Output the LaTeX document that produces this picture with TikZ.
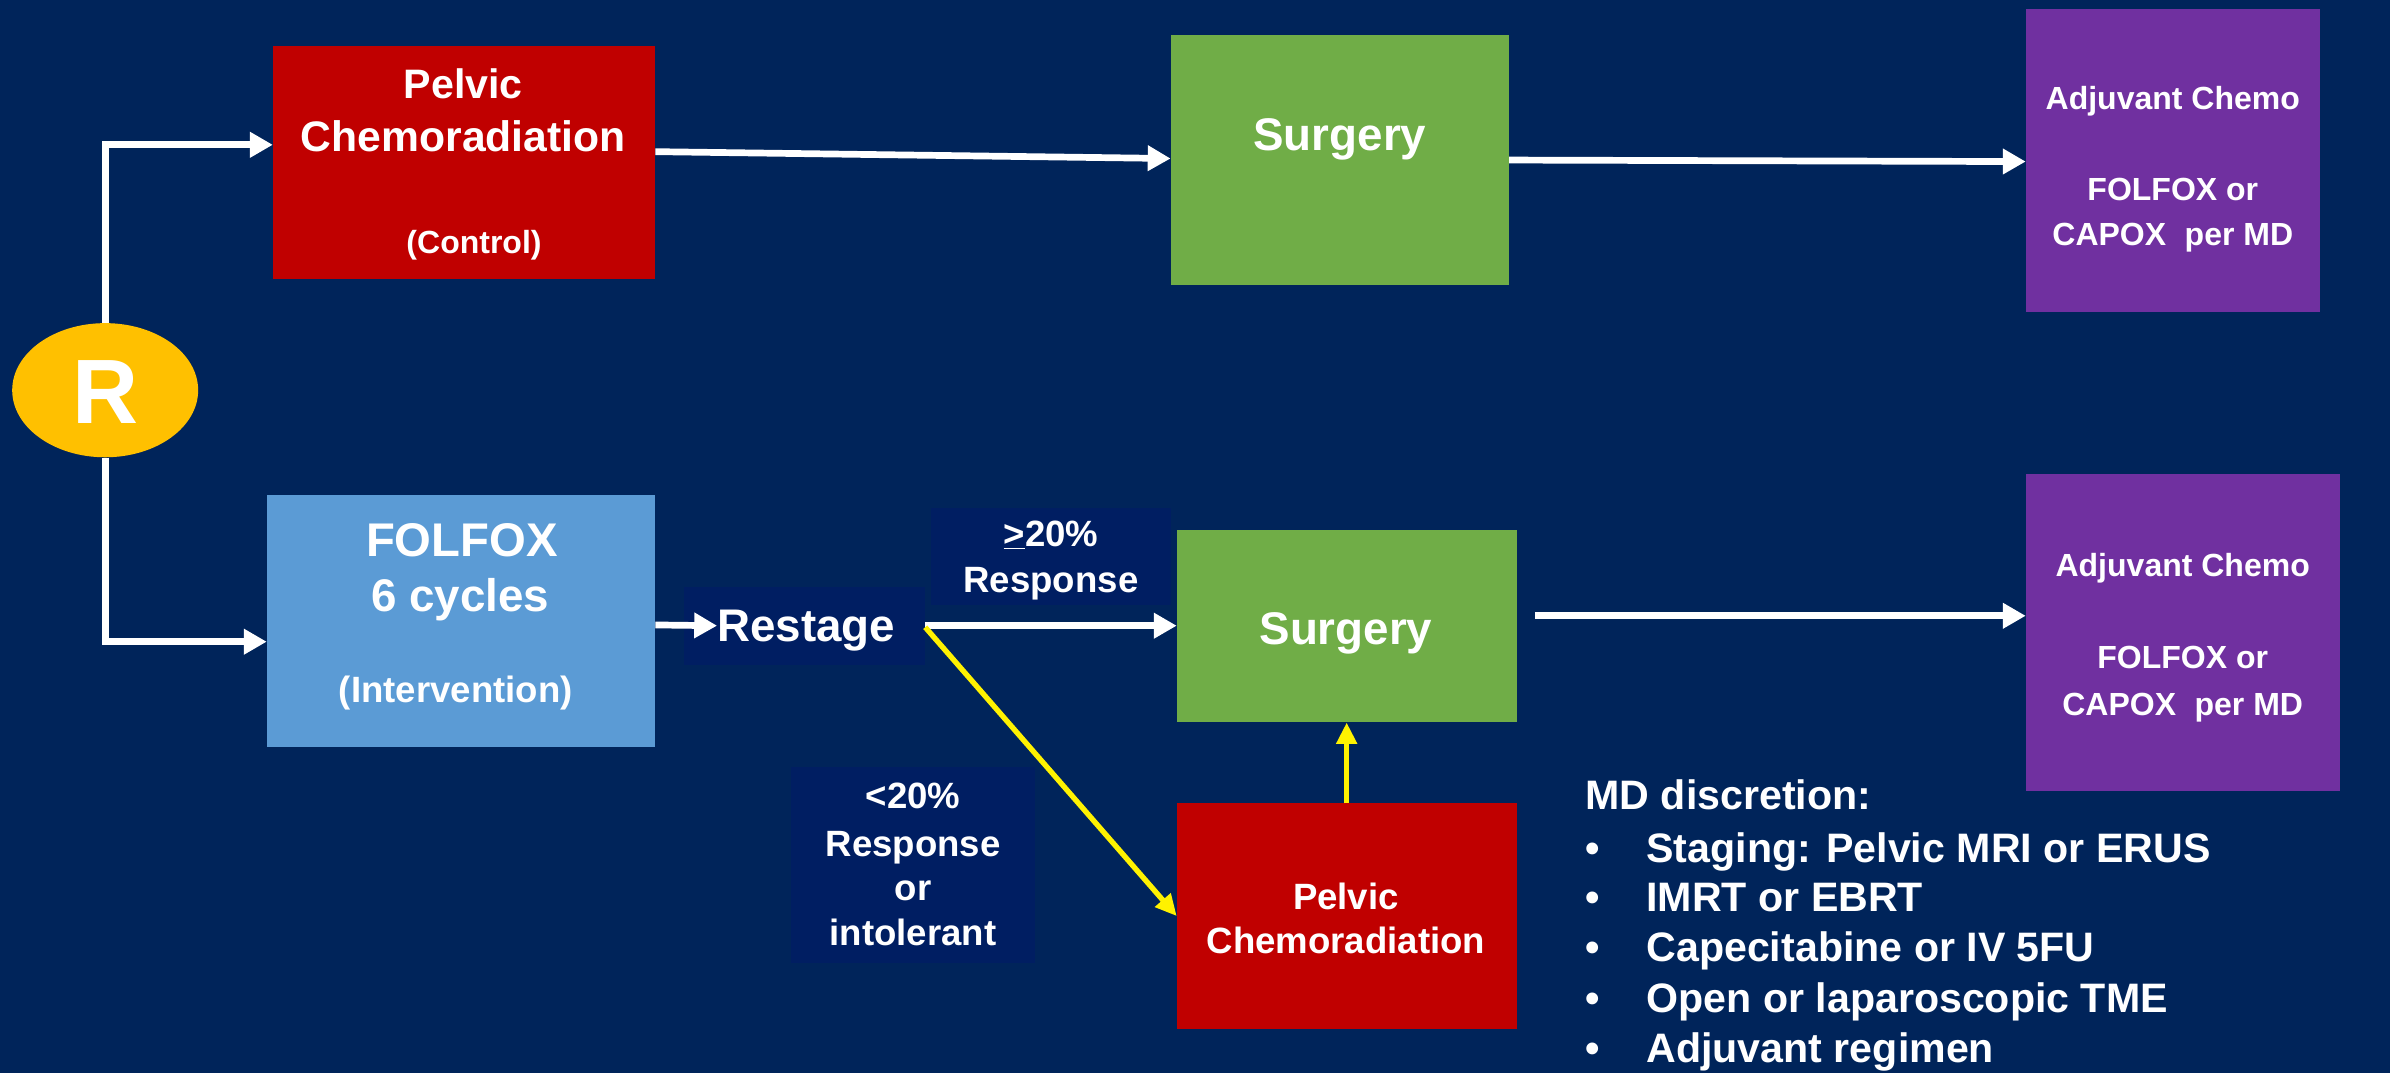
\documentclass[tikz,border=0pt]{standalone}
\usepackage{fontspec}
\setmainfont{Liberation Sans}
\usetikzlibrary{arrows.meta,shapes.geometric}
\definecolor{bg}{HTML}{00245A}
\definecolor{lab}{HTML}{001E62}
\definecolor{redb}{HTML}{C00000}
\definecolor{greenb}{HTML}{70AD47}
\definecolor{blueb}{HTML}{5B9BD5}
\definecolor{purb}{HTML}{7030A0}
\definecolor{goldb}{HTML}{FFC000}
\newcommand{\fsz}[1]{\fontsize{#1}{#1}\selectfont}
\begin{document}
\begin{tikzpicture}[x=1pt,y=-1pt,
  blk/.style={inner sep=0pt, outer sep=0pt, draw=none},
  txt/.style={text=white, font=\bfseries, inner sep=0pt, anchor=base},
  warr/.style={draw=white, line width=4.4pt, -{Triangle[length=15pt,width=16pt]}},
  yarr/.style={draw=yellow, line width=3.5pt, -{Triangle[length=14pt,width=13pt]}}]
\fill[bg] (0,0) rectangle (1568,704);
\useasboundingbox (0,0) rectangle (1568,704);

% boxes
\node[blk, fill=redb, minimum width=251pt, minimum height=153pt] (ctrl) at (304.5,106.5) {};
\node[blk, fill=greenb, minimum width=222pt, minimum height=164pt] (surgtop) at (879,105) {};
\node[blk, fill=purb, minimum width=193pt, minimum height=199pt] (purtop) at (1425.5,105.5) {};
\node[blk, fill=blueb, minimum width=255pt, minimum height=165pt] (blue) at (302.5,407.5) {};
\node[blk, fill=lab, minimum width=158pt, minimum height=51pt] (rbox) at (528,410.5) {};
\node[blk, fill=lab, minimum width=157pt, minimum height=64pt] (resp) at (689.5,365) {};
\node[blk, fill=lab, minimum width=160pt, minimum height=129pt] (nresp) at (599,567.5) {};
\node[blk, fill=greenb, minimum width=223pt, minimum height=126pt] (surgbot) at (883.5,411) {};
\node[blk, fill=redb, minimum width=223pt, minimum height=148pt] (pcr) at (883.5,601) {};
\node[blk, fill=purb, minimum width=206pt, minimum height=208pt] (purbot) at (1432,415) {};
\node[ellipse, fill=goldb, minimum width=122pt, minimum height=88pt, inner sep=0pt] (R) at (69,256) {};
\node[txt] (Rt) at (69,278) {\fsz{60}R};

% texts
\node[txt] (ctrl1) at (304,64.7) {\fsz{27}Pelvic};
\node[txt] (ctrl2) at (304,99.7) {\fsz{28}Chemoradiation};
\node[txt] (ctrl3) at (311,166) {\fsz{21}(Control)};
\node[txt] (st1) at (879,98.5) {\fsz{30}Surgery};
\node[txt] (pt1) at (1425.5,72) {\fsz{21}Adjuvant Chemo};
\node[txt] (pt2) at (1425.5,131.5) {\fsz{21}FOLFOX or};
\node[txt] (pt3) at (1425.5,161) {\fsz{21}CAPOX\hspace{0.3em} per MD};
\node[txt] (b1) at (303,365) {\fsz{31}FOLFOX};
\node[txt] (b2) at (302,401) {\fsz{30}6 cycles};
\node[txt] (b3) at (299,460.6) {\fsz{24}(Intervention)};
\node[txt] (rt) at (529,421) {\fsz{30}Restage};
\node[txt] (r1) at (689.5,358.6) {\fsz{24}\underline{>}20\%};
\node[txt] (r2) at (689.5,388.6) {\fsz{24}Response};
\node[txt] (n1) at (599,530.6) {\fsz{24}<20\%};
\node[txt] (n2) at (599,561.6) {\fsz{24}Response};
\node[txt] (n3) at (599,590.6) {\fsz{24}or};
\node[txt] (n4) at (599,620.6) {\fsz{24}intolerant};
\node[txt] (sb1) at (883,423) {\fsz{30}Surgery};
\node[txt] (pb1) at (1432,378.5) {\fsz{21}Adjuvant Chemo};
\node[txt] (pb2) at (1432,438.5) {\fsz{21}FOLFOX or};
\node[txt] (pb3) at (1432,469.5) {\fsz{21}CAPOX\hspace{0.3em} per MD};
\node[txt] (pc1) at (883,596.6) {\fsz{24}Pelvic};
\node[txt] (pc2) at (883,625.6) {\fsz{24}Chemoradiation};

% MD discretion list
\node[txt, anchor=base west] (md0) at (1040,531) {\fsz{27}MD discretion:};
\node[txt, anchor=base west] (md1) at (1040,566) {\fsz{27}\makebox[40pt][l]{•}Staging: Pelvic MRI or ERUS};
\node[txt, anchor=base west] (md2) at (1040,598) {\fsz{27}\makebox[40pt][l]{•}IMRT or EBRT};
\node[txt, anchor=base west] (md3) at (1040,631) {\fsz{27}\makebox[40pt][l]{•}Capecitabine or IV 5FU};
\node[txt, anchor=base west] (md4) at (1040,664) {\fsz{27}\makebox[40pt][l]{•}Open or laparoscopic TME};
\node[txt, anchor=base west] (md5) at (1040,697) {\fsz{27}\makebox[40pt][l]{•}Adjuvant regimen};

% connectors
\draw[warr] (R.north) |- ([yshift=11.5pt]ctrl.west);
\draw[warr] (R.south) |- ([yshift=-13.5pt]blue.west);
\draw[warr] ([yshift=7pt]ctrl.east) -- ([yshift=1pt]surgtop.west);
\draw[warr] ([yshift=0pt]surgtop.east) -- ([yshift=-0.5pt]purtop.west);
\draw[warr] ([yshift=-2.5pt]blue.east) -- (rt.west |- rbox.center);
\draw[warr] (rbox.east) -- (surgbot.west |- rbox.east);
\coordinate (s2) at ([xshift=12pt,yshift=7pt]surgbot.east);
\draw[warr] (s2) -- (s2 -| purbot.west);
\draw[yarr] ([yshift=-1pt]rbox.east) -- (pcr.west);
\draw[yarr] (pcr.north) -- (surgbot.south);
\end{tikzpicture}
\end{document}
